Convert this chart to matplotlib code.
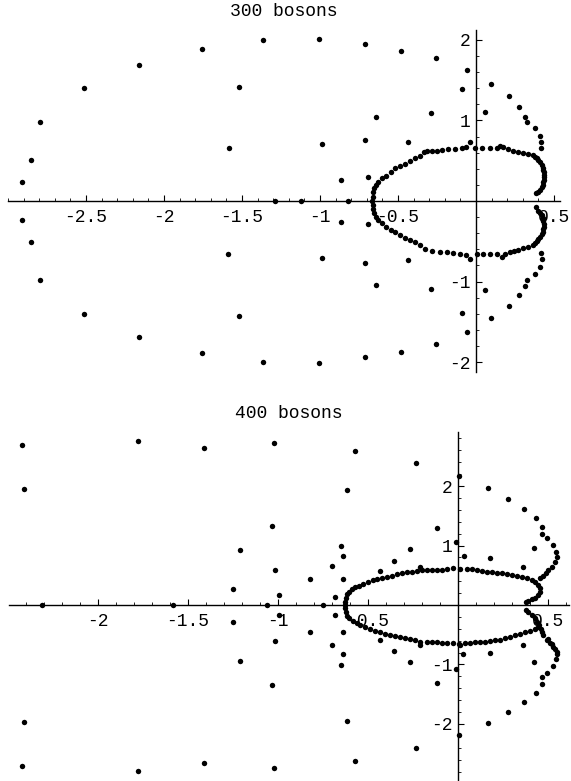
import numpy as np
import matplotlib
matplotlib.use("Agg")
import matplotlib.pyplot as plt
from matplotlib.ticker import MultipleLocator, FixedLocator

plt.rcParams['axes.unicode_minus'] = False
plt.rcParams['font.family'] = ['Liberation Mono', 'DejaVu Sans Mono']

# ---- 300 bosons (real, imag) ----
top_ring_upper = [
    (-0.669, 0.0), (-0.663, 0.054), (-0.658, 0.108), (-0.652, 0.158), (-0.641, 0.199),
    (-0.626, 0.240), (-0.605, 0.282), (-0.577, 0.315), (-0.547, 0.365), (-0.519, 0.406),
    (-0.487, 0.435), (-0.455, 0.460), (-0.423, 0.497), (-0.391, 0.530), (-0.359, 0.563),
    (-0.333, 0.604), (-0.316, 0.621), (-0.284, 0.621), (-0.252, 0.625), (-0.220, 0.629),
    (-0.177, 0.642), (-0.135, 0.646), (-0.092, 0.654), (-0.064, 0.667), (-0.038, 0.729),
    (-0.006, 0.662), (0.036, 0.654), (0.090, 0.654), (0.136, 0.662), (0.154, 0.683),
    (0.175, 0.667), (0.207, 0.646), (0.239, 0.621), (0.271, 0.604), (0.303, 0.592),
    (0.335, 0.584), (0.367, 0.571), (0.378, 0.551), (0.390, 0.530), (0.400, 0.509),
    (0.410, 0.480), (0.421, 0.447), (0.428, 0.415), (0.432, 0.385), (0.436, 0.354),
    (0.438, 0.323), (0.438, 0.292), (0.436, 0.261), (0.432, 0.230), (0.427, 0.199),
    (0.420, 0.168), (0.410, 0.137), (0.398, 0.115), (0.385, 0.095),
]
top_ring_lower = [
    (-0.663, -0.050), (-0.658, -0.099), (-0.652, -0.153), (-0.641, -0.195), (-0.626, -0.236),
    (-0.605, -0.269), (-0.577, -0.319), (-0.547, -0.360), (-0.519, -0.389), (-0.487, -0.422),
    (-0.455, -0.455), (-0.423, -0.484), (-0.391, -0.513), (-0.359, -0.547), (-0.327, -0.596),
    (-0.284, -0.621), (-0.231, -0.629), (-0.188, -0.638), (-0.145, -0.650), (-0.103, -0.658),
    (-0.064, -0.671), (-0.038, -0.725), (0.004, -0.663), (0.047, -0.658), (0.090, -0.658),
    (0.132, -0.658), (0.164, -0.692), (0.186, -0.658), (0.218, -0.638), (0.244, -0.621),
    (0.271, -0.609), (0.303, -0.588), (0.335, -0.567), (0.367, -0.547), (0.380, -0.520),
    (0.389, -0.497), (0.400, -0.470), (0.410, -0.443), (0.420, -0.412), (0.427, -0.381),
    (0.432, -0.350), (0.436, -0.319), (0.435, -0.284), (0.432, -0.248), (0.427, -0.210),
    (0.421, -0.174), (0.410, -0.148), (0.400, -0.124), (0.385, -0.079),
]
top_outer_upper = [
    (-1.365, 2.000), (-1.756, 1.888), (-2.160, 1.689), (-2.513, 1.404), (-2.795, 0.981),
    (-2.853, 0.509), (-2.910, 0.236), (-1.519, 1.416), (-1.583, 0.658), (-1.006, 2.012),
    (-0.712, 1.950), (-0.481, 1.863), (-0.256, 1.776), (-0.058, 1.627), (-0.090, 1.391),
    (-0.641, 1.043), (-0.288, 1.093), (-0.987, 0.708), (-0.712, 0.758), (-0.436, 0.730),
    (-0.865, 0.261), (-0.692, 0.298), (0.058, 1.106), (0.096, 1.453), (0.212, 1.304),
    (0.276, 1.168), (0.314, 1.043), (0.327, 0.981), (0.378, 0.907), (0.410, 0.807),
    (0.415, 0.737), (0.417, 0.654),
]
top_outer_lower = [
    (-2.910, -0.236), (-2.853, -0.509), (-2.795, -0.981), (-2.513, -1.404), (-2.160, -1.689),
    (-1.758, -1.892), (-1.363, -2.004), (-1.004, -2.017), (-0.712, -1.942), (-0.483, -1.872),
    (-0.256, -1.776), (-0.060, -1.623), (-0.090, -1.391), (-1.590, -0.658), (-1.519, -1.430),
    (-0.641, -1.043), (-0.288, -1.093), (-0.987, -0.708), (-0.712, -0.770), (-0.436, -0.733),
    (-0.865, -0.261), (-0.692, -0.286), (0.058, -1.106), (0.096, -1.453), (0.212, -1.304),
    (0.276, -1.168), (0.314, -1.056), (0.327, -0.981), (0.378, -0.907), (0.410, -0.820),
    (0.423, -0.720), (0.417, -0.646),
]
top_real_axis = [(-1.288, 0.0), (-1.122, 0.0), (-0.821, 0.0)]

# ---- 400 bosons (real, imag) ----
bot_ring_upper = [
    (-0.628, 0.0), (-0.628, 0.056), (-0.622, 0.123), (-0.615, 0.179), (-0.604, 0.224),
    (-0.591, 0.269), (-0.572, 0.303), (-0.548, 0.325), (-0.526, 0.347), (-0.498, 0.381),
    (-0.474, 0.415), (-0.452, 0.437), (-0.424, 0.459), (-0.396, 0.471), (-0.369, 0.493),
    (-0.341, 0.515), (-0.313, 0.532), (-0.285, 0.549), (-0.257, 0.560), (-0.230, 0.577),
    (-0.202, 0.588), (-0.174, 0.588), (-0.146, 0.588), (-0.119, 0.594), (-0.091, 0.594),
    (-0.063, 0.605), (-0.026, 0.616), (0.011, 0.605), (0.048, 0.605), (0.076, 0.599),
    (0.104, 0.588), (0.131, 0.571), (0.159, 0.560), (0.187, 0.549), (0.215, 0.532),
    (0.243, 0.532), (0.270, 0.521), (0.298, 0.504), (0.326, 0.493), (0.354, 0.476),
    (0.381, 0.448), (0.409, 0.420), (0.428, 0.381), (0.446, 0.336), (0.456, 0.280),
    (0.456, 0.224), (0.446, 0.168), (0.428, 0.123), (0.409, 0.095), (0.391, 0.073),
    (0.378, 0.056), (0.456, 0.460), (0.474, 0.490), (0.490, 0.530),
]
bot_ring_lower = [
    (-0.628, -0.056), (-0.622, -0.123), (-0.615, -0.179), (-0.604, -0.224), (-0.585, -0.269),
    (-0.563, -0.308), (-0.544, -0.336), (-0.517, -0.364), (-0.489, -0.403), (-0.461, -0.437),
    (-0.433, -0.459), (-0.406, -0.482), (-0.378, -0.504), (-0.350, -0.521), (-0.322, -0.538),
    (-0.294, -0.560), (-0.267, -0.571), (-0.239, -0.588), (-0.211, -0.616), (-0.174, -0.627),
    (-0.146, -0.627), (-0.119, -0.627), (-0.091, -0.633), (-0.063, -0.633), (-0.026, -0.644),
    (0.007, -0.650), (0.011, -0.672), (0.039, -0.644), (0.067, -0.639), (0.094, -0.627),
    (0.122, -0.627), (0.150, -0.616), (0.178, -0.605), (0.206, -0.594), (0.233, -0.583),
    (0.261, -0.560), (0.289, -0.532), (0.317, -0.504), (0.344, -0.487), (0.372, -0.459),
    (0.400, -0.437), (0.428, -0.403), (0.446, -0.364), (0.378, -0.084), (0.391, -0.112),
    (0.409, -0.168), (0.428, -0.224), (0.441, -0.280), (0.452, -0.336), (0.460, -0.400),
    (0.466, -0.450), (0.474, -0.504), (0.493, -0.588), (0.511, -0.644), (0.530, -0.700),
    (0.548, -0.784),
]
bot_outer_upper = [
    (-2.422, 2.689), (-2.411, 1.950), (-1.778, 2.756), (-1.411, 2.639), (-1.022, 2.723),
    (-1.033, 1.328), (-1.211, 0.924), (-1.017, 0.588), (-1.250, 0.269), (-0.994, 0.168),
    (-0.572, 2.588), (-0.617, 1.933), (-0.233, 2.387), (0.006, 2.168), (-0.117, 1.294),
    (-0.650, 0.992), (-0.639, 0.824), (-0.700, 0.655), (-0.267, 0.941), (-0.356, 0.739),
    (-0.433, 0.571), (-0.011, 1.059), (0.033, 0.824), (0.178, 0.790), (-0.211, 0.644),
    (0.363, 0.644), (0.167, 1.966), (0.278, 1.782), (0.367, 1.613), (0.433, 1.462),
    (0.467, 1.311), (0.467, 1.193), (0.494, 1.126), (0.528, 1.008), (0.544, 0.891),
    (0.550, 0.807), (0.539, 0.723), (0.522, 0.639), (0.500, 0.588), (0.422, 0.958),
    (-0.822, 0.437), (-0.639, 0.437), (-0.683, 0.140),
]
bot_outer_lower = [
    (-2.411, -1.966), (-2.422, -2.706), (-1.778, -2.790), (-1.411, -2.655), (-1.022, -2.740),
    (-1.033, -1.345), (-1.211, -0.941), (-1.017, -0.605), (-1.250, -0.286), (-0.994, -0.168),
    (-0.572, -2.622), (-0.617, -1.950), (-0.233, -2.403), (0.006, -2.185), (-0.117, -1.311),
    (-0.650, -1.008), (-0.639, -0.823), (-0.702, -0.672), (-0.267, -0.958), (-0.356, -0.773),
    (-0.433, -0.588), (-0.011, -1.076), (0.028, -0.823), (0.178, -0.801), (-0.211, -0.672),
    (0.363, -0.672), (0.167, -1.983), (0.278, -1.798), (0.367, -1.630), (0.433, -1.479),
    (0.467, -1.328), (0.467, -1.210), (0.494, -1.143), (0.528, -1.025), (0.544, -0.908),
    (0.550, -0.824), (0.539, -0.740), (0.522, -0.655), (0.500, -0.571), (0.422, -0.958),
    (-0.822, -0.454), (-0.639, -0.454), (-0.683, -0.168),
]
bot_real_axis = [(-2.311, 0.0), (-1.583, 0.0), (-1.061, 0.0), (-0.752, 0.0)]

top_xticks = [-2.5, -2, -1.5, -1, -0.5, 0.5]
top_xlabels = ["-2.5", "-2", "-1.5", "-1", "-0.5", "0.5"]
top_yticks = [-2, -1, 1, 2]
bot_xticks = [-2, -1.5, -1, -0.5, 0.5]
bot_xlabels = ["-2", "-1.5", "-1", "-0.5", "0.5"]
bot_yticks = [-2, -1, 1, 2]

W, H = 571, 781
fig = plt.figure(figsize=(W / 100, H / 100), dpi=100)


def make_axes(left, right, top, bottom):
    return fig.add_axes([left / W, 1 - bottom / H, (right - left) / W, (bottom - top) / H])


def style(ax, xlim, ylim, xticks, xlabels, yticks):
    ax.set_xlim(*xlim)
    ax.set_ylim(*ylim)
    for s in ['top', 'right']:
        ax.spines[s].set_visible(False)
    ax.spines['left'].set_position('zero')
    ax.spines['bottom'].set_position('zero')
    for s in ['left', 'bottom']:
        ax.spines[s].set_linewidth(1.0)
    ax.xaxis.set_major_locator(FixedLocator(xticks))
    ax.set_xticklabels(xlabels)
    ax.xaxis.set_minor_locator(MultipleLocator(0.1))
    ax.yaxis.set_major_locator(FixedLocator(yticks))
    ax.set_yticklabels([str(t) for t in yticks])
    ax.yaxis.set_minor_locator(MultipleLocator(0.2))
    ax.tick_params(which='major', direction='in', length=4, width=0.8, labelsize=13, pad=6)
    ax.tick_params(which='minor', direction='in', length=2, width=0.6)
    ax.tick_params(axis='y', pad=4)
    ax.patch.set_visible(False)


def dots(ax, *groups):
    for g in groups:
        a = np.array(g)
        ax.plot(a[:, 0], a[:, 1], 'o', color='black', markersize=3.9,
                markeredgewidth=0, zorder=5, clip_on=False)


# top panel: x px = 476 + 156*x, y px = 201 - 80.5*y
ax1 = make_axes(8, 559.5, 30.3, 371.7)
style(ax1, (-3.0, 0.535), (-2.12, 2.12), top_xticks, top_xlabels, top_yticks)
dots(ax1, top_ring_upper, top_ring_lower, top_outer_upper, top_outer_lower, top_real_axis)

# bottom panel: x px = 458 + 180*x, y px = 605 - 59.5*y
ax2 = make_axes(9, 569, 431.9, 780.5)
style(ax2, (-2.494, 0.617), (-2.95, 2.91), bot_xticks, bot_xlabels, bot_yticks)
dots(ax2, bot_ring_upper, bot_ring_lower, bot_outer_upper, bot_outer_lower, bot_real_axis)

fig.text(284 / W, 1 - 12 / H, "300 bosons", ha='center', va='center', fontsize=13)
fig.text(289 / W, 1 - 413 / H, "400 bosons", ha='center', va='center', fontsize=13)

fig.savefig("out.png", dpi=100)
